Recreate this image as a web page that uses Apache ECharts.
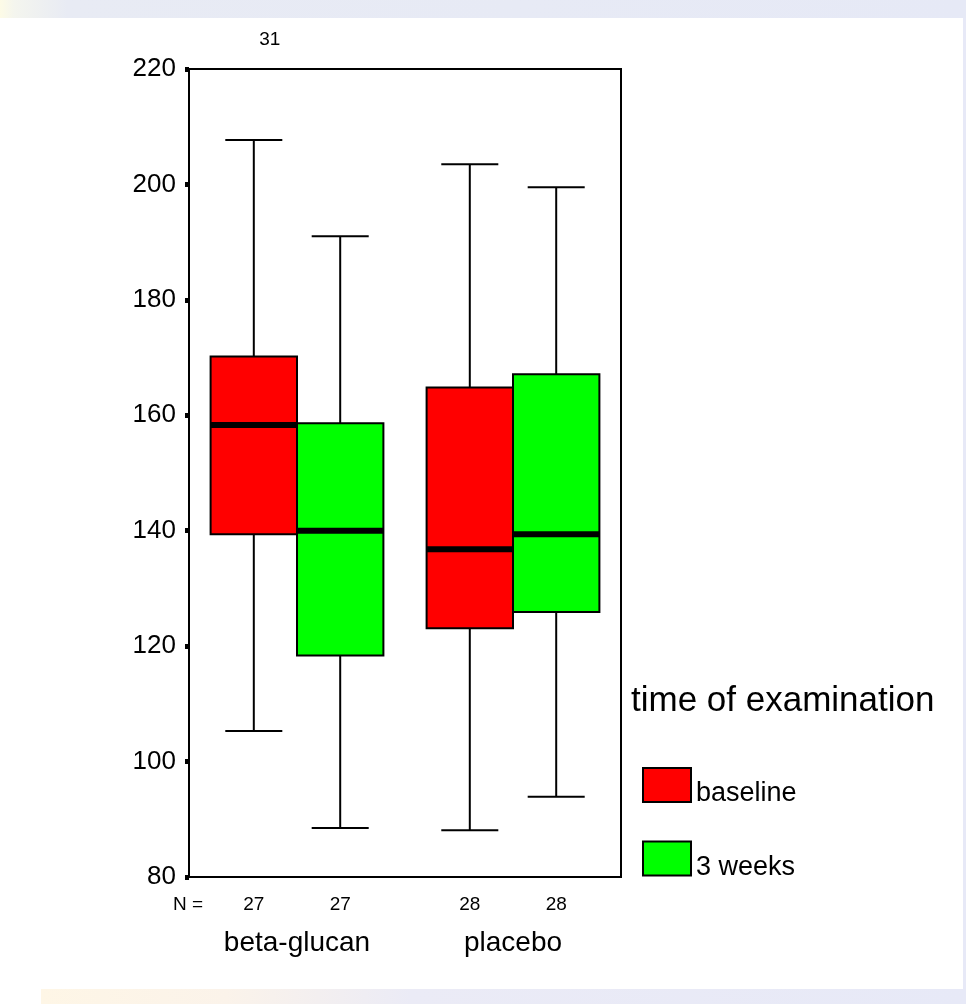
<!DOCTYPE html>
<html>
<head>
<meta charset="utf-8">
<script src="https://cdn.jsdelivr.net/npm/echarts@6/dist/echarts.min.js"></script>
<style>
  html, body { margin: 0; padding: 0; background: #ffffff; }
  #chart { width: 966px; height: 1004px; }
</style>
</head>
<body>
<div id="chart"></div>
<script>
// ---- data ----
const categories = ['beta-glucan', 'placebo'];
const seriesNames = ['baseline', '3 weeks'];
const seriesColors = ['#ff0000', '#00ff00'];
// [min, Q1, median, Q3, max]
const baselineStats = [
  [105.3, 139.4, 158.3, 170.2, 207.7],
  [88.1, 123.1, 136.8, 164.8, 203.5]
];
const weeks3Stats = [
  [88.5, 118.4, 140.0, 158.6, 191.0],
  [93.9, 125.9, 139.4, 167.1, 199.5]
];
const baselineN = [27, 28];
const weeks3N = [27, 28];
const outlierCategory = [0];
const outlierValue = [225];
const outlierLabel = ['31'];
const yTicks = { min: 80, max: 220, interval: 20 };

const FONT = "'Liberation Sans', Arial, sans-serif";

function buildData(stats, ns) {
  return stats.map((s, i) => [i, s[0], s[1], s[2], s[3], s[4], ns[i]]);
}

function makeRender(side, color) {
  return function (params, api) {
    const cat = api.value(0);
    const band = api.size([1, 0])[0];
    const w = band * 0.4;
    const center = api.coord([cat, api.value(3)])[0];
    const x0 = side === 0 ? center - w : center;
    const cx = x0 + w / 2;
    const yMin = api.coord([cat, api.value(1)])[1];
    const yQ1 = api.coord([cat, api.value(2)])[1];
    const yMed = api.coord([cat, api.value(3)])[1];
    const yQ3 = api.coord([cat, api.value(4)])[1];
    const yMax = api.coord([cat, api.value(5)])[1];
    const yBase = api.coord([cat, yTicks.min])[1];
    const capHalf = w * 0.33;
    const ls = { stroke: '#000', lineWidth: 2 };
    return {
      type: 'group',
      children: [
        { type: 'line', shape: { x1: cx, y1: yQ3, x2: cx, y2: yMax }, style: ls },
        { type: 'line', shape: { x1: cx, y1: yQ1, x2: cx, y2: yMin }, style: ls },
        { type: 'line', shape: { x1: cx - capHalf, y1: yMax, x2: cx + capHalf, y2: yMax }, style: ls },
        { type: 'line', shape: { x1: cx - capHalf, y1: yMin, x2: cx + capHalf, y2: yMin }, style: ls },
        { type: 'rect', shape: { x: x0, y: yQ3, width: w, height: yQ1 - yQ3 },
          style: { fill: color, stroke: '#000', lineWidth: 2 } },
        { type: 'line', shape: { x1: x0, y1: yMed, x2: x0 + w, y2: yMed },
          style: { stroke: '#000', lineWidth: 6 } },
        { type: 'text', x: cx, y: yBase + 28,
          style: { text: String(api.value(6)), fill: '#000', fontSize: 19, fontFamily: FONT,
                   align: 'center', verticalAlign: 'middle' } }
      ]
    };
  };
}

function renderOutlier(params, api) {
  const cat = api.value(0);
  const band = api.size([1, 0])[0];
  const w = band * 0.4;
  const p = api.coord([cat, api.value(1)]);
  const cx = p[0] - w / 2;
  return {
    type: 'text', x: cx + 16, y: p[1],
    style: { text: outlierLabel[params.dataIndex], fill: '#000', fontSize: 19, fontFamily: FONT,
             align: 'center', verticalAlign: 'middle' }
  };
}

const chart = echarts.init(document.getElementById('chart'), null, { renderer: 'canvas' });

const option = {
  animation: false,
  backgroundColor: '#ffffff',
  textStyle: { fontFamily: FONT },
  title: {
    text: 'time of examination',
    left: 631, top: 684,
    padding: 0,
    textStyle: { fontSize: 35, fontWeight: 'normal', color: '#000', fontFamily: FONT }
  },
  legend: {
    orient: 'vertical',
    left: 642, top: 767,
    padding: 0,
    itemWidth: 48, itemHeight: 34, itemGap: 33,
    icon: 'rect',
    formatter: '{t|{name}}',
    textStyle: {
      color: '#000', fontFamily: FONT, fontSize: 27,
      rich: { t: { fontSize: 27, color: '#000', fontFamily: FONT, padding: [18, 0, 0, 0] } }
    },
    data: seriesNames.map((n, i) => ({
      name: n,
      itemStyle: { color: seriesColors[i], borderColor: '#000', borderWidth: 2 }
    }))
  },
  grid: {
    left: 189, top: 69, right: 345, bottom: 127,
    show: true, borderColor: '#000', borderWidth: 2, backgroundColor: 'transparent'
  },
  xAxis: {
    type: 'category',
    data: categories,
    axisLine: { lineStyle: { color: '#000', width: 2 } },
    axisTick: { alignWithLabel: true, length: 5, lineStyle: { color: '#000', width: 6 } },
    axisLabel: { fontSize: 28, color: '#000', margin: 52, fontFamily: FONT },
    splitLine: { show: false }
  },
  yAxis: {
    type: 'value',
    min: yTicks.min, max: yTicks.max, interval: yTicks.interval,
    axisLine: { show: true, lineStyle: { color: '#000', width: 2 } },
    axisTick: { show: true, length: 4, lineStyle: { color: '#000', width: 5 } },
    axisLabel: { fontSize: 26, color: '#000', margin: 13, fontFamily: FONT },
    splitLine: { show: false }
  },
  graphic: [
    { type: 'rect', z: -10, shape: { x: 0, y: 0, width: 966, height: 18 },
      style: { fill: new echarts.graphic.LinearGradient(0, 0, 1, 0, [
        { offset: 0, color: '#fdfbe6' },
        { offset: 0.015, color: '#f4f5ee' },
        { offset: 0.07, color: '#e8ebf4' },
        { offset: 1, color: '#e6e9f6' }
      ]) } },
    { type: 'rect', z: -10, shape: { x: 41, y: 989, width: 925, height: 15 },
      style: { fill: new echarts.graphic.LinearGradient(0, 0, 1, 0, [
        { offset: 0, color: '#fef6e6' },
        { offset: 0.2, color: '#fbf3ea' },
        { offset: 0.4, color: '#ebebf6' },
        { offset: 1, color: '#e7e9f7' }
      ]) } },
    { type: 'rect', z: -10, shape: { x: 963, y: 18, width: 3, height: 971 },
      style: { fill: '#e7e9f7' } },
    { type: 'text', z: 10, x: 188, y: 905,
      style: { text: 'N =', fill: '#000', fontSize: 19, fontFamily: FONT, align: 'center', verticalAlign: 'middle' } }
  ],
  series: [
    {
      name: seriesNames[0], type: 'custom', clip: false,
      itemStyle: { color: seriesColors[0], borderColor: '#000' },
      renderItem: makeRender(0, seriesColors[0]),
      encode: { x: 0, y: [1, 2, 3, 4, 5] },
      data: buildData(baselineStats, baselineN)
    },
    {
      name: seriesNames[1], type: 'custom', clip: false,
      itemStyle: { color: seriesColors[1], borderColor: '#000' },
      renderItem: makeRender(1, seriesColors[1]),
      encode: { x: 0, y: [1, 2, 3, 4, 5] },
      data: buildData(weeks3Stats, weeks3N)
    },
    {
      name: 'outliers', type: 'custom', clip: false,
      renderItem: renderOutlier,
      encode: { x: 0, y: 1 },
      data: outlierCategory.map((c, i) => [c, outlierValue[i]])
    }
  ]
};

chart.setOption(option);
</script>
</body>
</html>
